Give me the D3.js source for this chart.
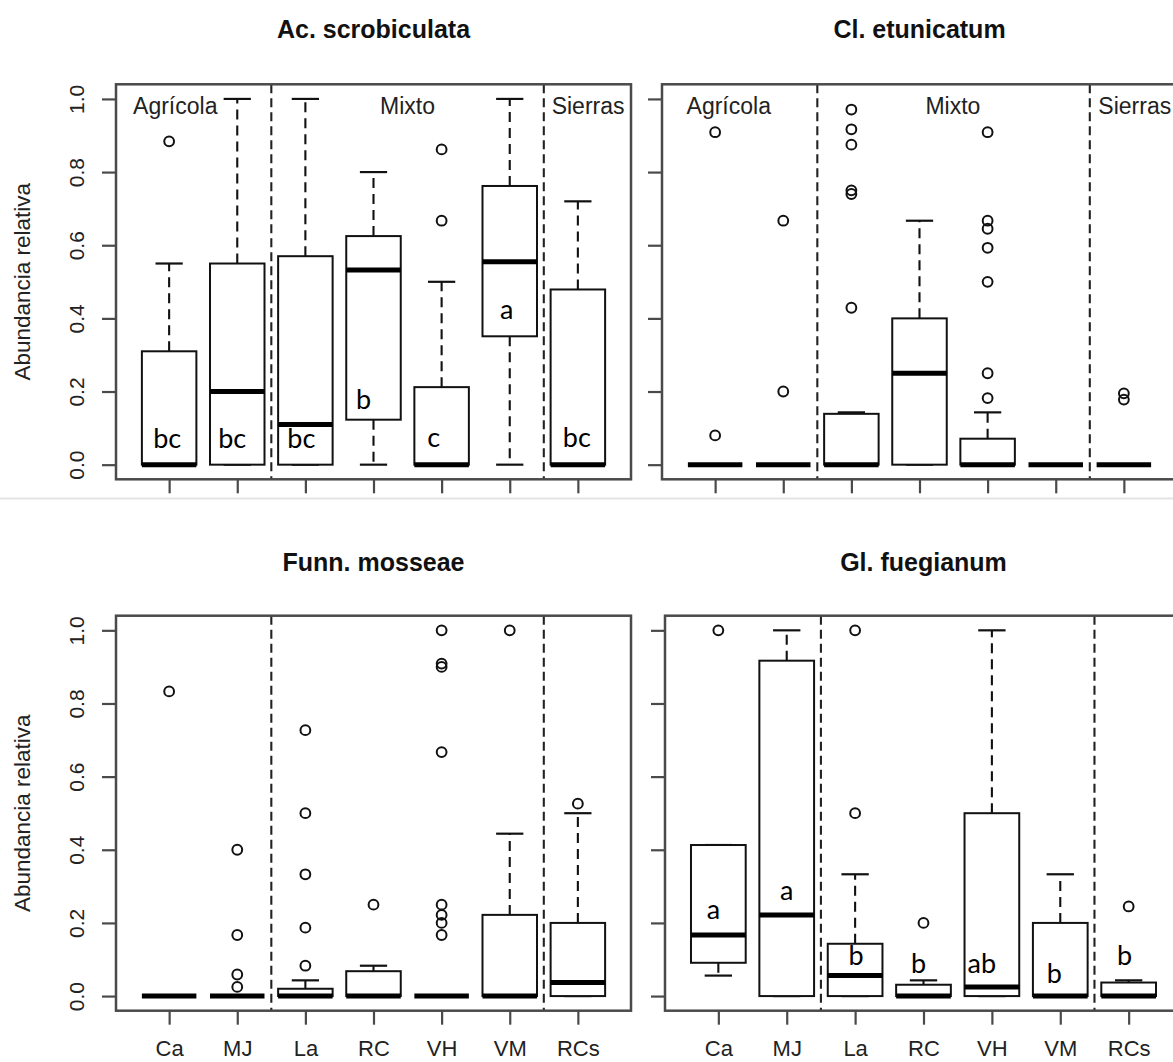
<!DOCTYPE html>
<html>
<head>
<meta charset="utf-8">
<script src="https://cdn.jsdelivr.net/npm/d3@7"></script>
<style>
  body { margin: 0; background: #fff; }
  svg { display: block; }
</style>
</head>
<body>
<svg id="chart" width="1173" height="1062"></svg>
<script>
// Sampling sites, in plotting order, and the land-use zone each block belongs to
const categories = ["Ca", "MJ", "La", "RC", "VH", "VM", "RCs"];
const groups = ["Agrícola", "Mixto", "Sierras"];
const yTicks = [0, 0.2, 0.4, 0.6, 0.8, 1.0];

// Box statistics per site: [lower whisker, Q1, median, Q3, upper whisker]
const acScrobiculata = [
  [0, 0, 0, 0.31, 0.55],
  [0, 0, 0.20, 0.55, 1.0],
  [0, 0, 0.11, 0.57, 1.0],
  [0, 0.123, 0.532, 0.625, 0.80],
  [0, 0, 0, 0.212, 0.50],
  [0, 0.351, 0.555, 0.762, 1.0],
  [0, 0, 0, 0.479, 0.72]
];
const acOutliers = [[0.884], [], [], [], [0.862, 0.667], [], []];
const acLetters = ["bc", "bc", "bc", "b", "c", "a", "bc"];

const clEtunicatum = [
  [0, 0, 0, 0, 0],
  [0, 0, 0, 0, 0],
  [0, 0, 0, 0.139, 0.143],
  [0, 0, 0.25, 0.40, 0.667],
  [0, 0, 0, 0.071, 0.143],
  [0, 0, 0, 0, 0],
  [0, 0, 0, 0, 0]
];
const clOutliers = [
  [0.909, 0.08],
  [0.667, 0.2],
  [0.971, 0.917, 0.875, 0.75, 0.74, 0.429],
  [],
  [0.909, 0.667, 0.645, 0.593, 0.5, 0.25, 0.182],
  [],
  [0.195, 0.178]
];

const funnMosseae = [
  [0, 0, 0, 0, 0],
  [0, 0, 0, 0, 0],
  [0, 0, 0, 0.02, 0.043],
  [0, 0, 0, 0.068, 0.083],
  [0, 0, 0, 0, 0],
  [0, 0, 0, 0.222, 0.444],
  [0, 0, 0.037, 0.2, 0.5]
];
const funnOutliers = [
  [0.833],
  [0.4, 0.167, 0.059, 0.025],
  [0.727, 0.5, 0.333, 0.187, 0.083],
  [0.25],
  [1.0, 0.909, 0.9, 0.667, 0.25, 0.222, 0.2, 0.167],
  [1.0],
  [0.526]
];

const glFuegianum = [
  [0.056, 0.091, 0.167, 0.413, 0.413],
  [0, 0, 0.222, 0.917, 1.0],
  [0, 0, 0.056, 0.143, 0.333],
  [0, 0, 0, 0.031, 0.043],
  [0, 0, 0.025, 0.5, 1.0],
  [0, 0, 0, 0.2, 0.333],
  [0, 0, 0, 0.037, 0.043]
];
const glOutliers = [[1.0], [], [1.0, 0.5], [0.2], [], [], [0.245]];
const glLetters = ["a", "a", "b", "b", "ab", "b", "b"];

// ---- layout -------------------------------------------------------------
// Where the significance letters sit (baseline, in data units) and their small horizontal nudges (px)
const acLetterLayout = { y: [0.046, 0.046, 0.046, 0.152, 0.048, 0.397, 0.048], dx: [-2, -5, -4, -10, -8, -3, -1] };
const glLetterLayout = { y: [0.212, 0.263, 0.084, 0.064, 0.064, 0.036, 0.084], dx: [-5, 0, 1, -5, -10, -6, -4] };

const panels = [
  { title: "Ac. scrobiculata", stats: acScrobiculata, outliers: acOutliers,
    letters: acLetters, letterLayout: acLetterLayout,
    left: 116, top: 84.3, width: 515, height: 395, titleY: 38,
    yLabels: true, xLabels: false,
    groupAt: [1.09, 4.5, 7.15] },
  { title: "Cl. etunicatum", stats: clEtunicatum, outliers: clOutliers,
    left: 662, top: 84.3, width: 515, height: 395, titleY: 38,
    yLabels: false, xLabels: false,
    groupAt: [1.2, 4.49, 7.16] },
  { title: "Funn. mosseae", stats: funnMosseae, outliers: funnOutliers,
    left: 116, top: 615.7, width: 515, height: 395, titleY: 571,
    yLabels: true, xLabels: true },
  { title: "Gl. fuegianum", stats: glFuegianum, outliers: glOutliers,
    letters: glLetters, letterLayout: glLetterLayout,
    left: 665, top: 615.7, width: 517, height: 395, titleY: 571,
    yLabels: false, xLabels: true }
];

const svg = d3.select("#chart");
const FRAME = "#4a4a4a";
const INK = "#111";
const SANS = "'Liberation Sans', Arial, Helvetica, sans-serif";

// faint seam between the upper and lower rows
svg.append("line")
  .attr("x1", 0).attr("x2", 1173).attr("y1", 498.5).attr("y2", 498.5)
  .attr("stroke", "#e4e4e4").attr("stroke-width", 2);

panels.forEach(p => {
  const g = svg.append("g");
  // R-style axes: 0.5..n+0.5 and 0..1, each padded by 4 %
  const x = d3.scaleLinear().domain([0.22, 7.78]).range([p.left, p.left + p.width]);
  const y = d3.scaleLinear().domain([-0.04, 1.04]).range([p.top + p.height, p.top]);
  const unit = x(2) - x(1);
  const boxW = 0.8 * unit;
  const stapleW = boxW / 2;

  // title
  g.append("text")
    .attr("x", (p.left + p.left + p.width) / 2).attr("y", p.titleY)
    .attr("text-anchor", "middle")
    .attr("font-family", SANS).attr("font-weight", "bold").attr("font-size", 25)
    .attr("fill", "#111")
    .text(p.title);

  // zone separators
  [2.5, 6.5].forEach(v => {
    g.append("line")
      .attr("x1", x(v)).attr("x2", x(v))
      .attr("y1", p.top).attr("y2", p.top + p.height)
      .attr("stroke", "#222").attr("stroke-width", 2.1)
      .attr("stroke-dasharray", "9,5");
  });

  // zone names
  if (p.groupAt) {
    groups.forEach((name, i) => {
      g.append("text")
        .attr("x", x(p.groupAt[i])).attr("y", y(0.96) + 0.5)
        .attr("text-anchor", "middle")
        .attr("font-family", SANS).attr("font-size", 23)
        .attr("fill", "#222")
        .text(name);
    });
  }

  // boxes
  p.stats.forEach((s, i) => {
    const [lo, q1, med, q3, hi] = s;
    const cx = x(i + 1);
    const bg = g.append("g");
    // whiskers
    if (hi > q3) {
      bg.append("line").attr("x1", cx).attr("x2", cx).attr("y1", y(q3)).attr("y2", y(hi))
        .attr("stroke", INK).attr("stroke-width", 2.1).attr("stroke-dasharray", "10,6");
    }
    if (q1 > lo) {
      bg.append("line").attr("x1", cx).attr("x2", cx).attr("y1", y(q1)).attr("y2", y(lo))
        .attr("stroke", INK).attr("stroke-width", 2.1).attr("stroke-dasharray", "10,6");
    }
    // staples
    [lo, hi].forEach(v => {
      bg.append("line")
        .attr("x1", cx - stapleW / 2).attr("x2", cx + stapleW / 2)
        .attr("y1", y(v)).attr("y2", y(v))
        .attr("stroke", INK).attr("stroke-width", 2.2);
    });
    // box
    bg.append("rect")
      .attr("x", cx - boxW / 2).attr("width", boxW)
      .attr("y", y(q3)).attr("height", Math.max(0, y(q1) - y(q3)))
      .attr("fill", "#fff").attr("stroke", INK).attr("stroke-width", 2);
    // median
    bg.append("line")
      .attr("x1", cx - boxW / 2).attr("x2", cx + boxW / 2)
      .attr("y1", y(med)).attr("y2", y(med))
      .attr("stroke", "#000").attr("stroke-width", 5);
    // outliers
    p.outliers[i].forEach(v => {
      bg.append("circle")
        .attr("cx", cx).attr("cy", y(v)).attr("r", 4.9)
        .attr("fill", "none").attr("stroke", INK).attr("stroke-width", 2);
    });
  });

  // significance letters
  if (p.letters) {
    p.letters.forEach((t, i) => {
      g.append("text")
        .attr("x", x(i + 1) + p.letterLayout.dx[i])
        .attr("y", y(p.letterLayout.y[i]))
        .attr("text-anchor", "middle")
        .attr("font-family", "Lato, 'Open Sans', sans-serif")
        .attr("font-size", 27)
        .attr("fill", "#000")
        .text(t);
    });
  }

  // frame
  g.append("rect")
    .attr("x", p.left).attr("y", p.top)
    .attr("width", p.width).attr("height", p.height)
    .attr("fill", "none").attr("stroke", FRAME).attr("stroke-width", 2.5);

  // y axis
  const yAxis = g.append("g")
    .attr("transform", `translate(${p.left},0)`)
    .call(d3.axisLeft(y).tickValues(yTicks).tickSize(14)
      .tickFormat(p.yLabels ? d3.format(".1f") : () => ""));
  yAxis.select(".domain").remove();
  yAxis.selectAll(".tick line").attr("stroke", FRAME).attr("stroke-width", 2.2);
  yAxis.selectAll(".tick text")
    .attr("transform", "rotate(-90)")
    .attr("x", 0).attr("y", 83.5 - 116).attr("dy", 0)
    .attr("text-anchor", "middle")
    .attr("font-family", SANS).attr("font-size", 21).attr("fill", "#222");

  if (p.yLabels) {
    g.append("text")
      .attr("transform", `translate(30,${y(0.5)}) rotate(-90)`)
      .attr("text-anchor", "middle")
      .attr("font-family", SANS).attr("font-size", 22.5).attr("fill", "#222")
      .text("Abundancia relativa");
  }

  // x axis
  const xAxis = g.append("g")
    .attr("transform", `translate(0,${p.top + p.height})`)
    .call(d3.axisBottom(x).tickValues(d3.range(1, categories.length + 1)).tickSize(14)
      .tickFormat(p.xLabels ? (d => categories[d - 1]) : () => ""));
  xAxis.select(".domain").remove();
  xAxis.selectAll(".tick line").attr("stroke", FRAME).attr("stroke-width", 2.2);
  xAxis.selectAll(".tick text")
    .attr("y", 45.5).attr("dy", 0)
    .attr("font-family", SANS).attr("font-size", 22).attr("fill", "#222");
});
</script>
</body>
</html>
